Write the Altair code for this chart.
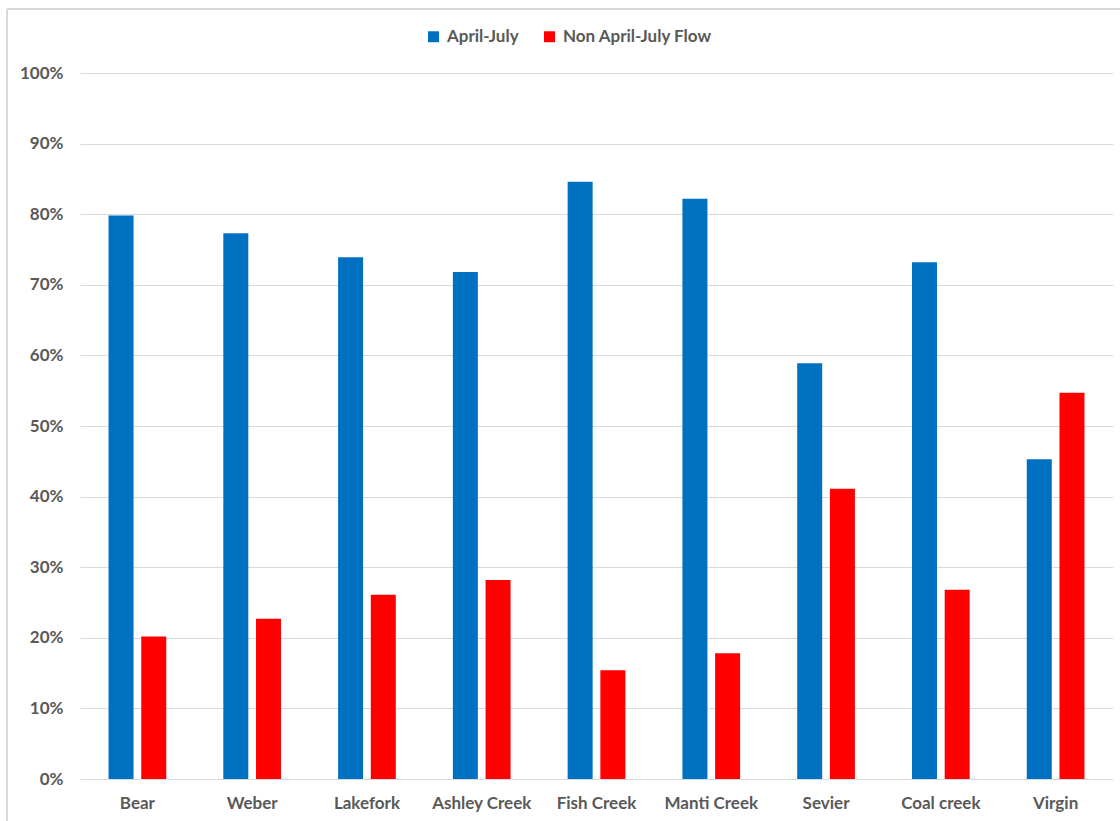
import altair as alt
import pandas as pd

rivers = ["Bear", "Weber", "Lakefork", "Ashley Creek", "Fish Creek",
          "Manti Creek", "Sevier", "Coal creek", "Virgin"]
april_july = [79.8, 77.3, 73.9, 71.8, 84.6, 82.2, 58.9, 73.2, 45.3]
non_april_july = [20.2, 22.7, 26.1, 28.2, 15.4, 17.8, 41.1, 26.8, 54.7]
series = ["April-July", "Non April-July Flow"]
colors = ["#0070C0", "#FF0000"]

rows = []
for i, r in enumerate(rivers):
    rows.append({"River": r, "Series": series[0], "Value": april_july[i] / 100})
    rows.append({"River": r, "Series": series[1], "Value": non_april_july[i] / 100})
df = pd.DataFrame(rows)

FONT = "Lato"
LABEL_COLOR = "#595959"
FS = 17

bars = alt.Chart(df).mark_bar(width=25).encode(
    x=alt.X("River:N", sort=rivers, title=None,
            scale=alt.Scale(paddingInner=0.43, paddingOuter=0.215),
            axis=alt.Axis(labelAngle=0, domain=False, ticks=False, grid=False,
                          labelPadding=16, labelFontSize=FS, labelFontWeight="bold",
                          labelColor=LABEL_COLOR, labelFont=FONT)),
    xOffset=alt.XOffset("Series:N", sort=series,
                        scale=alt.Scale(paddingInner=0, paddingOuter=0)),
    y=alt.Y("Value:Q", title=None,
            scale=alt.Scale(domain=[0, 1], nice=False),
            axis=alt.Axis(format=".0%", values=[i / 10 for i in range(11)],
                          domain=False, ticks=False, labelPadding=17,
                          labelFontSize=FS, labelFontWeight="bold",
                          labelColor=LABEL_COLOR, labelFont=FONT,
                          gridColor="#d9d9d9", gridWidth=1)),
    color=alt.Color("Series:N", sort=series,
                    scale=alt.Scale(domain=series, range=colors),
                    legend=alt.Legend(title=None, orient="none", direction="horizontal",
                                      legendX=345, legendY=-45,
                                      symbolType="square", symbolSize=120,
                                      symbolStrokeWidth=0,
                                      labelFontSize=FS, labelFontWeight="bold",
                                      labelColor=LABEL_COLOR, labelFont=FONT,
                                      columnPadding=22, labelOffset=5)),
)

frame_left = alt.Chart(df).mark_rule(color="#d9d9d9", strokeWidth=1.5, clip=False).encode(
    x=alt.value(-73), y=alt.value(-64), y2=alt.value(760)
)
frame_top = alt.Chart(df).mark_rule(color="#d9d9d9", strokeWidth=1.5, clip=False).encode(
    x=alt.value(-73), x2=alt.value(1050), y=alt.value(-64)
)

chart = alt.layer(frame_left, frame_top, bars).properties(
    width=1033, height=706,
    background="white",
    autosize=alt.AutoSizeParams(type="none"),
    padding={"left": 80, "top": 73, "right": 7, "bottom": 42},
).configure_view(stroke=None, strokeWidth=0)

chart.save("out.html", embed_options={"renderer": "svg", "actions": False})
